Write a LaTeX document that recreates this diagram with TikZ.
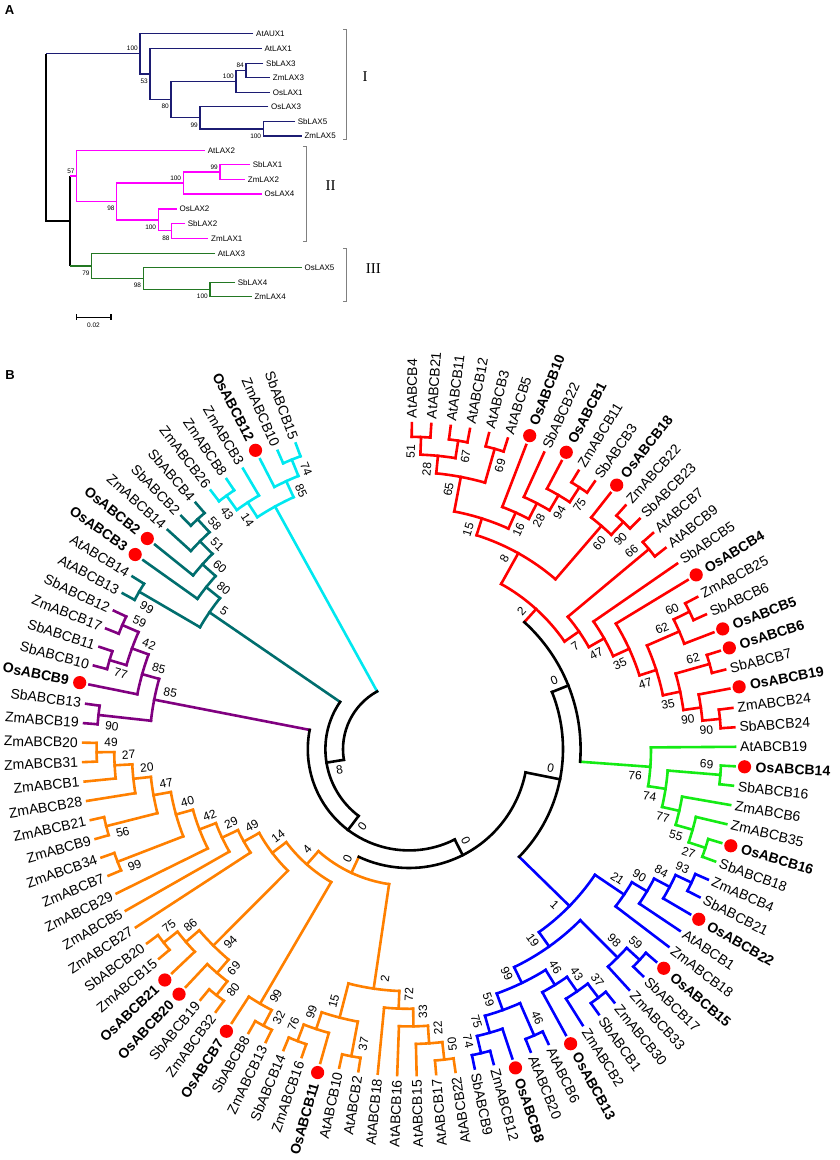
\documentclass[tikz,border=0pt]{standalone}
\usepackage{fontspec}
\setmainfont{Liberation Sans}
\newfontfamily\serifA{Liberation Serif}
\definecolor{cRed}{RGB}{255,0,0}
\definecolor{cLime}{RGB}{20,235,20}
\definecolor{cBlue}{RGB}{0,0,255}
\definecolor{cOrange}{RGB}{255,128,0}
\definecolor{cPurple}{RGB}{128,0,128}
\definecolor{cTeal}{RGB}{0,110,110}
\definecolor{cCyan}{RGB}{0,232,240}
\definecolor{cDot}{RGB}{255,0,0}
\definecolor{aNavy}{RGB}{28,28,115}
\definecolor{aMag}{RGB}{255,0,255}
\definecolor{aGreen}{RGB}{35,120,35}
\definecolor{cGray}{RGB}{128,128,128}
\newcommand\setv[3]{\expandafter\xdef\csname #1@#2\endcsname{#3}}
\newcommand\getv[2]{\csname #1@#2\endcsname}
\newcommand\lfbase[1]{%
  \setv{A}{#1}{\fpeval{round(89.5-3.426*(#1),4)}}%
  \setv{R}{#1}{326}%
  \setv{C}{#1}{\curcol}}
\newcommand\lf[2]{\lfbase{#1}%
  \ifdim\getv{A}{#1}pt>-80.1pt
    \node[leaf,anchor=west,rotate=\getv{A}{#1}] (l#1) at (\getv{A}{#1}:331pt) {#2};%
  \else
    \node[leaf,anchor=east,rotate=\fpeval{\getv{A}{#1}+180}] (l#1) at (\getv{A}{#1}:331pt) {#2};%
  \fi}
\newcommand\lfo[2]{\lfbase{#1}%
  \fill[cDot] (\getv{A}{#1}:336pt) circle[radius=6.6pt];%
  \ifdim\getv{A}{#1}pt>-80.1pt
    \node[leafb,anchor=west,rotate=\getv{A}{#1}] (l#1) at (\getv{A}{#1}:347pt) {#2};%
  \else
    \node[leafb,anchor=east,rotate=\fpeval{\getv{A}{#1}+180}] (l#1) at (\getv{A}{#1}:347pt) {#2};%
  \fi}
\newcommand\nd[6]{%
  \setv{A}{#1}{\fpeval{round((\getv{A}{#2}+\getv{A}{#3})/2,4)}}%
  \setv{R}{#1}{\fpeval{round(330-17.6*(#4),2)}}%
  \setv{C}{#1}{\curcol}%
  \edef\qCa{\getv{C}{#2}}\edef\qCb{\getv{C}{#3}}%
  \edef\qAa{\getv{A}{#2}}\edef\qAb{\getv{A}{#3}}\edef\qAn{\getv{A}{#1}}%
  \edef\qRa{\getv{R}{#2}}\edef\qRb{\getv{R}{#3}}\edef\qRn{\getv{R}{#1}}%
  \draw[br,draw=\qCa] (\qAa:\qRa pt) -- (\qAa:\qRn pt);%
  \draw[br,draw=\qCb] (\qAb:\qRb pt) -- (\qAb:\qRn pt);%
  \draw[br,draw=\curcol] (\qAa:\qRn pt) arc[start angle=\qAa, end angle=\qAb, radius=\qRn pt];%
  \coordinate (#1) at (\qAn:\qRn pt);%
  \ifx\relax#5\relax\else
    \edef\qLa{\fpeval{\qAn+(#6)*573/\qRn}}\edef\qLr{\fpeval{\qRn-7}}%
    \ifdim\qAn pt>-80.1pt
      \node[sup,anchor=east,rotate=\qAn] at (\qLa:\qLr pt) {#5};%
    \else
      \node[sup,anchor=west,rotate=\fpeval{\qAn+180}] at (\qLa:\qLr pt) {#5};%
    \fi
  \fi}
\begin{document}
\begin{tikzpicture}[x=1pt,y=1pt,
  br/.style={line width=2.6pt,line cap=rect},
  leaf/.style={font=\fontsize{14}{14}\selectfont,inner sep=0pt,text=black},
  leafb/.style={font=\fontsize{14}{14}\selectfont\bfseries,inner sep=0pt,text=black},
  sup/.style={font=\fontsize{12}{12}\selectfont,inner sep=0.5pt,text=black},
  aln/.style={line width=1.3pt},
  al/.style={font=\fontsize{8}{8}\selectfont,inner sep=0pt,anchor=west},
  as/.style={font=\fontsize{6.5}{6.5}\selectfont,inner sep=0pt},
  brk/.style={line width=1.1pt,draw=cGray},
  rom/.style={font=\serifA\fontsize{15}{15}\selectfont,inner sep=0pt}]
\fill[white] (0,0) rectangle (839,-1160);
\useasboundingbox (0,0) rectangle (839,-1160);
% ================= Panel A =================
\begin{scope}[yscale=-1]
\node[font=\bfseries\fontsize{13}{13}\selectfont] (labA) at (9.5,10) {A};
% root
\draw[aln,black] (46,53.6) -- (46,221.05) -- (70,221.05);
\draw[aln,black] (70,176.1) -- (70,266);
% clade I
\begin{scope}[aln,aNavy]
\draw (46,53.6) -- (140,53.6);
\draw (253.3,33.3) -| (140,53.6) |- (150,73.95);
\draw (261.7,48.3) -| (150,73.95) |- (171,99.6);
\draw (236,81.4) -| (171,99.6) |- (200,117.8);
\draw (246,70.5) -| (236,81.4) |- (270,92.3);
\draw (263.3,63.3) -| (246,70.5) |- (270,77.7);
\draw (268.3,106.7) -| (200,117.8) |- (263.3,128.85);
\draw (295,121.7) -| (263.3,128.85) |- (301.7,136);
\end{scope}
% clade II
\begin{scope}[aln,aMag]
\draw (70,176.1) -- (76.7,176.1);
\draw (205,150.7) -| (76.7,176.1) |- (116.7,201.5);
\draw (183.3,183.05) -| (116.7,201.5) |- (158.3,219.9);
\draw (220,172.1) -| (183.3,183.05) |- (261.7,194);
\draw (250,164.7) -| (220,172.1) |- (245,179.5);
\draw (176.7,209) -| (158.3,219.9) |- (171.7,230.8);
\draw (185,223.3) -| (171.7,230.8) |- (208.3,238.3);
\end{scope}
% clade III
\begin{scope}[aln,aGreen]
\draw (70,266) -- (91.7,266);
\draw (215,253.3) -| (91.7,266) |- (143.3,278.6);
\draw (301.7,267.7) -| (143.3,278.6) |- (210,289.5);
\draw (235,282.3) -| (210,289.5) |- (251.7,296.7);
\end{scope}
% leaf labels
\node[al] (AtAUX1) at (256,33.3) {AtAUX1};
\node[al] (AtLAX1) at (264.4,48.3) {AtLAX1};
\node[al] (SbLAX3) at (266,63.3) {SbLAX3};
\node[al] (ZmLAX3) at (272.7,77.7) {ZmLAX3};
\node[al] (OsLAX1) at (272.7,92.3) {OsLAX1};
\node[al] (OsLAX3) at (271,106.7) {OsLAX3};
\node[al] (SbLAX5) at (297.7,121.7) {SbLAX5};
\node[al] (ZmLAX5) at (304.4,136) {ZmLAX5};
\node[al] (AtLAX2) at (207.7,150.7) {AtLAX2};
\node[al] (SbLAX1) at (252.7,164.7) {SbLAX1};
\node[al] (ZmLAX2) at (247.7,179.5) {ZmLAX2};
\node[al] (OsLAX4) at (264.4,194) {OsLAX4};
\node[al] (OsLAX2) at (179.4,209) {OsLAX2};
\node[al] (SbLAX2) at (187.7,223.3) {SbLAX2};
\node[al] (ZmLAX1) at (211,238.3) {ZmLAX1};
\node[al] (AtLAX3) at (217.7,253.3) {AtLAX3};
\node[al] (OsLAX5) at (304.4,267.7) {OsLAX5};
\node[al] (SbLAX4) at (237.7,282.3) {SbLAX4};
\node[al] (ZmLAX4) at (254.4,296.7) {ZmLAX4};
% support values
\node[as,anchor=south east] (sa1) at (138,51.1) {100};
\node[as,anchor=north east] (sa2) at (148,78.4) {53};
\node[as,anchor=north east] (sa3) at (169,104.1) {80};
\node[as,anchor=south east] (sa4) at (234,78.9) {100};
\node[as,anchor=south east] (sa5) at (244,68) {84};
\node[as,anchor=north east] (sa6) at (198,122.3) {99};
\node[as,anchor=north east] (sa7) at (261.3,133.3) {100};
\node[as,anchor=south east] (sa8) at (74.7,173.6) {57};
\node[as,anchor=north east] (sa9) at (114.7,206) {98};
\node[as,anchor=south east] (sa10) at (181.3,180.5) {100};
\node[as,anchor=south east] (sa11) at (218,169.6) {99};
\node[as,anchor=north east] (sa12) at (156.3,224.4) {100};
\node[as,anchor=north east] (sa13) at (169.7,235.3) {88};
\node[as,anchor=north east] (sa14) at (89.7,270.5) {79};
\node[as,anchor=north east] (sa15) at (141.3,283.1) {98};
\node[as,anchor=north east] (sa16) at (208,294) {100};
% brackets
\draw[brk] (343.3,29.3) -- (346.7,29.3) -- (346.7,139.3) -- (343.3,139.3);
\draw[brk] (303.3,146.7) -- (306.7,146.7) -- (306.7,241.7) -- (303.3,241.7);
\draw[brk] (343.3,248.3) -- (346.7,248.3) -- (346.7,301.7) -- (343.3,301.7);
\node[rom] (rI) at (365,76.7) {I};
\node[rom] (rII) at (330.7,186) {II};
\node[rom] (rIII) at (373.3,268.3) {III};
% scale bar
\draw[line width=1.1pt] (76.7,317.3) -- (111,317.3);
\draw[line width=1.1pt] (76.7,314.3) -- (76.7,320.3);
\draw[line width=1.1pt] (111,314.3) -- (111,320.3);
\node[as] (sc) at (93.5,325.5) {0.02};
\node[font=\bfseries\fontsize{13}{13}\selectfont] (labB) at (10,375) {B};
\end{scope}
% ================= Panel B =================
\begin{scope}[shift={(409,-749.2)}]
\def\curcol{cRed}
\lf{0}{AtABCB4}\lf{1}{AtABCB21}\lf{2}{AtABCB11}\lf{3}{AtABCB12}\lf{4}{AtABCB3}
\lf{5}{AtABCB5}\lfo{6}{OsABCB10}\lf{7}{SbABCB22}\lfo{8}{OsABCB1}\lf{9}{ZmABCB11}
\lf{10}{SbABCB3}\lfo{11}{OsABCB18}\lf{12}{ZmABCB22}\lf{13}{SbABCB23}\lf{14}{AtABCB7}
\lf{15}{AtABCB9}\lf{16}{SbABCB5}\lfo{17}{OsABCB4}\lf{18}{ZmABCB25}\lf{19}{SbABCB6}
\lfo{20}{OsABCB5}\lfo{21}{OsABCB6}\lf{22}{SbABCB7}\lfo{23}{OsABCB19}\lf{24}{ZmABCB24}
\lf{25}{SbABCB24}
\def\curcol{cLime}
\lf{26}{AtABCB19}\lfo{27}{OsABCB14}\lf{28}{SbABCB16}\lf{29}{ZmABCB6}\lf{30}{ZmABCB35}
\lfo{31}{OsABCB16}\lf{32}{SbABCB18}
\def\curcol{cBlue}
\lf{33}{ZmABCB4}\lf{34}{SbABCB21}\lfo{35}{OsABCB22}\lf{36}{AtABCB1}\lf{37}{ZmABCB18}
\lfo{38}{OsABCB15}\lf{39}{SbABCB17}\lf{40}{ZmABCB33}\lf{41}{ZmABCB30}\lf{42}{SbABCB1}
\lf{43}{ZmABCB2}\lfo{44}{OsABCB13}\lf{45}{AtABCB6}\lf{46}{AtABCB20}\lfo{47}{OsABCB8}
\lf{48}{ZmABCB12}\lf{49}{SbABCB9}
\def\curcol{cOrange}
\lf{50}{AtABCB22}\lf{51}{AtABCB17}\lf{52}{AtABCB15}\lf{53}{AtABCB16}\lf{54}{AtABCB18}
\lf{55}{AtABCB2}\lf{56}{AtABCB10}\lfo{57}{OsABCB11}\lf{58}{ZmABCB16}\lf{59}{SbABCB14}
\lf{60}{ZmABCB13}\lf{61}{SbABCB8}\lfo{62}{OsABCB7}\lf{63}{ZmABCB32}\lf{64}{SbABCB19}
\lfo{65}{OsABCB20}\lfo{66}{OsABCB21}\lf{67}{ZmABCB15}\lf{68}{SbABCB20}\lf{69}{ZmABCB27}
\lf{70}{ZmABCB5}\lf{71}{ZmABCB29}\lf{72}{ZmABCB7}\lf{73}{ZmABCB34}\lf{74}{ZmABCB9}
\lf{75}{ZmABCB21}\lf{76}{ZmABCB28}\lf{77}{ZmABCB1}\lf{78}{ZmABCB31}\lf{79}{ZmABCB20}
\def\curcol{cPurple}
\lf{80}{ZmABCB19}\lf{81}{SbABCB13}\lfo{82}{OsABCB9}\lf{83}{SbABCB10}\lf{84}{SbABCB11}
\lf{85}{ZmABCB17}\lf{86}{SbABCB12}
\def\curcol{cTeal}
\lf{87}{AtABCB13}\lf{88}{AtABCB14}\lfo{89}{OsABCB3}\lfo{90}{OsABCB2}\lf{91}{ZmABCB14}
\lf{92}{SbABCB2}\lf{93}{SbABCB4}
\def\curcol{cCyan}
\lf{94}{ZmABCB26}\lf{95}{ZmABCB8}\lf{96}{ZmABCB3}\lfo{97}{OsABCB12}\lf{98}{ZmABCB10}
\lf{99}{SbABCB15}
% ---- red clade
\def\curcol{cRed}
\nd{n51}{0}{1}{1}{51}{+1}
\nd{n67}{2}{3}{1}{67}{-1}
\nd{n28a}{n51}{n67}{2}{28}{+1}
\nd{n69}{4}{5}{1}{69}{-1}
\nd{n65}{n28a}{n69}{3}{65}{+1}
\nd{n75}{9}{10}{1}{75}{-1}
\nd{n94}{8}{n75}{2}{94}{-1}
\nd{n28b}{7}{n94}{3}{28}{-1}
\nd{n16}{6}{n28b}{4}{16}{-1}
\nd{n15}{n65}{n16}{5}{15}{+1}
\nd{n90a}{12}{13}{1}{90}{-1}
\nd{n60}{11}{n90a}{2}{60}{-1}
\nd{n8}{n15}{n60}{6}{8}{+1}
\nd{n66}{14}{15}{1}{66}{+1}
\nd{n60b}{18}{19}{1}{60}{+1}
\nd{n62a}{n60b}{20}{2}{62}{+1}
\nd{n62b}{21}{22}{1}{62}{+1}
\nd{n90d}{24}{25}{1}{90}{-1}
\nd{n90c}{23}{n90d}{2}{90}{-1}
\nd{n35b}{n62b}{n90c}{3}{35}{-1}
\nd{n47b}{n62a}{n35b}{4}{47}{-1}
\nd{n35a}{17}{n47b}{5}{35}{-1}
\nd{n47a}{16}{n35a}{6}{47}{-1}
\nd{n7}{n66}{n47a}{7}{7}{-1}
\nd{n2}{n8}{n7}{8}{2}{+1}
% ---- green clade
\def\curcol{cLime}
\nd{n69g}{27}{28}{1}{69}{+1}
\nd{n27g}{31}{32}{1}{27}{-1}
\nd{n55}{30}{n27g}{2}{55}{-1}
\nd{n77}{29}{n55}{3}{77}{-1}
\nd{n74}{n69g}{n77}{4}{74}{-1}
\nd{n76}{26}{n74}{5}{76}{-1}
% ---- blue clade
\def\curcol{cBlue}
\nd{n93}{33}{34}{1}{93}{+1}
\nd{n84}{n93}{35}{2}{84}{+1}
\nd{n90b}{n84}{36}{3}{90}{+1}
\nd{n21}{n90b}{37}{4}{21}{+1}
\nd{n59}{38}{39}{1}{59}{+1}
\nd{n98}{n59}{40}{2}{98}{+1}
\nd{n37}{41}{42}{1}{37}{+1}
\nd{n43}{n37}{43}{2}{43}{+1}
\nd{n46}{n43}{44}{3}{46}{+1}
\nd{n46b}{45}{46}{1}{46}{+1}
\nd{n74b}{48}{49}{1}{74}{-1}
\nd{n75b}{47}{n74b}{2}{75}{-1}
\nd{n59b}{n46b}{n75b}{3}{59}{-1}
\nd{n99b}{n46}{n59b}{4}{99}{-1}
\nd{n19}{n98}{n99b}{5}{19}{-1}
\nd{n1}{n21}{n19}{6}{1}{-1}
% ---- orange clade
\def\curcol{cOrange}
\nd{n50}{50}{51}{1}{50}{+1}
\nd{n22}{n50}{52}{2}{22}{+1}
\nd{n33}{n22}{53}{3}{33}{+1}
\nd{n72}{n33}{54}{4}{72}{+1}
\nd{n37o}{55}{56}{1}{37}{+1}
\nd{n76o}{58}{59}{1}{76}{-1}
\nd{n99o}{57}{n76o}{2}{99}{-1}
\nd{n15o}{n37o}{n99o}{3}{15}{-1}
\nd{n2o}{n72}{n15o}{5}{2}{+1}
\nd{n32}{60}{61}{1}{32}{+1}
\nd{n99a}{n32}{62}{2}{99}{+1}
\nd{n80}{63}{64}{1}{80}{+1}
\nd{n69o}{n80}{65}{2}{69}{+1}
\nd{n75o}{67}{68}{1}{75}{-1}
\nd{n86}{66}{n75o}{2}{86}{-1}
\nd{n94o}{n69o}{n86}{3}{94}{+1}
\nd{n49b}{78}{79}{1}{49}{-1}
\nd{n27}{77}{n49b}{2}{27}{-1}
\nd{n20}{76}{n27}{3}{20}{-1}
\nd{n56}{74}{75}{1}{56}{+1}
\nd{n47}{n56}{n20}{4}{47}{-1}
\nd{n99c}{72}{73}{1}{99}{+1}
\nd{n40}{n99c}{n47}{5}{40}{-1}
\nd{n42}{71}{n40}{6}{42}{-1}
\nd{n29}{70}{n42}{7}{29}{-1}
\nd{n49a}{69}{n29}{8}{49}{-1}
\nd{n14}{n94o}{n49a}{9}{14}{-1}
\nd{n4}{n99a}{n14}{10}{4}{-1}
\nd{n0o}{n2o}{n4}{11}{0}{-1}
% ---- purple clade
\def\curcol{cPurple}
\nd{n90p}{80}{81}{1}{90}{+1}
\nd{n77p}{83}{84}{1}{77}{+1}
\nd{n59p}{85}{86}{1}{59}{-1}
\nd{n42p}{n77p}{n59p}{2}{42}{-1}
\nd{n85a}{82}{n42p}{3}{85}{-1}
\nd{n85b}{n90p}{n85a}{4}{85}{-1}
% ---- teal clade
\def\curcol{cTeal}
\nd{n99t}{87}{88}{1}{99}{+1}
\nd{n58}{92}{93}{1}{58}{-1}
\nd{n51t}{91}{n58}{2}{51}{-1}
\nd{n60t}{90}{n51t}{3}{60}{-1}
\nd{n80t}{89}{n60t}{4}{80}{-1}
\nd{n5}{n99t}{n80t}{5}{5}{-1}
% ---- cyan clade
\def\curcol{cCyan}
\nd{n43c}{94}{95}{1}{43}{+1}
\nd{n14c}{n43c}{96}{2}{14}{+1}
\nd{n74c}{98}{99}{1}{74}{-1}
\nd{n85c}{97}{n74c}{2}{85}{-1}
\nd{ncy}{n14c}{n85c}{3}{}{+1}
% ---- backbone
\def\curcol{black}
\nd{nX}{n2}{n76}{9}{0}{+1}
\nd{nY}{nX}{n1}{10}{0}{+1}
\nd{nZ}{nY}{n0o}{12}{0}{+1}
\nd{nV}{nZ}{n85b}{13}{0}{+1}
\nd{nU}{nV}{n5}{14}{8}{+1}
\nd{nT}{nU}{ncy}{15}{}{+1}
\end{scope}
\end{tikzpicture}
\end{document}
